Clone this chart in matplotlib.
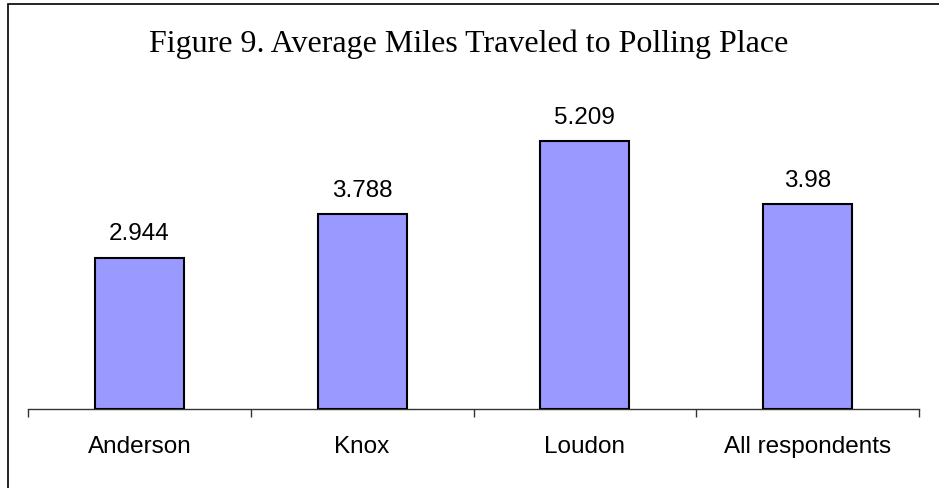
import matplotlib
matplotlib.use("Agg")
import matplotlib.pyplot as plt
from matplotlib.patches import Rectangle

categories = ["Anderson", "Knox", "Loudon", "All respondents"]
miles = [2.944, 3.788, 5.209, 3.98]
value_labels = ["2.944", "3.788", "5.209", "3.98"]
title = "Figure 9. Average Miles Traveled to Polling Place"

W, H = 939, 488
fig = plt.figure(figsize=(W / 100, H / 100), dpi=100)

# outer chart frame (right and bottom edges fall outside the canvas)
fig.patches.append(Rectangle((7.5 / W, -0.05), 1.1, (H - 4.5) / H + 0.05,
                             transform=fig.transFigure, fill=False,
                             edgecolor="black", linewidth=1.2))

# plot area: x 28..919 px, baseline at y=409 px
ax_left, ax_right = 28 / W, 919 / W
ax_bottom = 1 - 409 / H
ax_top = 1 - 90 / H
ax = fig.add_axes([ax_left, ax_bottom, ax_right - ax_left, ax_top - ax_bottom])

px_per_unit = 51.45
ymax = (409 - 90) / px_per_unit

x = list(range(len(categories)))
ax.bar(x, miles, width=0.4, color="#9999FF", edgecolor="black", linewidth=1.5, zorder=3)
for xi, v, lab in zip(x, miles, value_labels):
    ax.annotate(lab, (xi, v), xytext=(0, 12.5), textcoords="offset points",
                ha="center", va="baseline", fontsize=17.5, family="Liberation Sans")

ax.set_xlim(-0.5, len(categories) - 0.5)
ax.set_ylim(0, ymax)
for s in ["top", "right", "left"]:
    ax.spines[s].set_visible(False)
ax.spines["bottom"].set_color("#333333")
ax.spines["bottom"].set_linewidth(1.0)
ax.set_yticks([])

# tick marks sit between categories
ax.set_xticks([i - 0.5 for i in range(len(categories) + 1)])
ax.set_xticklabels([])
ax.tick_params(axis="x", length=6, width=1, color="#333333", direction="out")
label_y = -(453 - 409) / px_per_unit
for xi, c in zip(x, categories):
    ax.text(xi, label_y, c, ha="center", va="baseline", fontsize=17.5,
            family="Liberation Sans", clip_on=False)

fig.text(469 / W, 1 - 52 / H, title, ha="center", va="baseline",
         fontsize=23, family="Liberation Serif")

fig.savefig("out.png", dpi=100)
